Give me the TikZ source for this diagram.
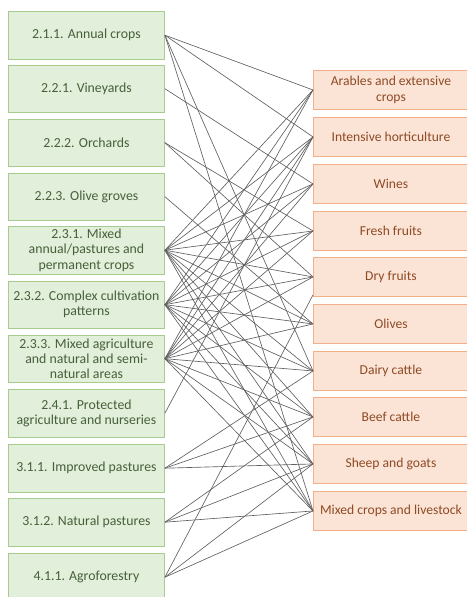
\documentclass[tikz,border=0pt]{standalone}
\usepackage{fontspec}
\setmainfont{Carlito}
\usetikzlibrary{calc}
\definecolor{landfill}{HTML}{E2EFDA}
\definecolor{landdraw}{HTML}{A8CB90}
\definecolor{landtext}{HTML}{46603A}
\definecolor{farmfill}{HTML}{FBE4D6}
\definecolor{farmdraw}{HTML}{F2B08A}
\definecolor{farmtext}{HTML}{8E4A24}
\definecolor{linkgray}{HTML}{606060}
\begin{document}
\begin{tikzpicture}[x=1pt,y=-1pt,
  landbox/.style={draw=landdraw, fill=landfill, text=landtext, line width=0.9pt,
    minimum width=156pt, minimum height=47.5pt, inner sep=0pt, align=center,
    anchor=north west, font=\fontsize{13.8}{15.2}\selectfont},
  farmbox/.style={draw=farmdraw, fill=farmfill, text=farmtext, line width=0.9pt,
    minimum width=155pt, minimum height=39pt, inner sep=0pt, align=center,
    anchor=north west, font=\fontsize{13.6}{16}\selectfont},
  link/.style={draw=linkgray, line width=0.65pt}]
\useasboundingbox (0,0) rectangle (466,597);

% land-cover classes
\node[landbox] (l1)  at (8,11)    {2.1.1. Annual crops};
\node[landbox] (l2)  at (8,64.5)  {2.2.1. Vineyards};
\node[landbox] (l3)  at (8,118.5) {2.2.2. Orchards};
\node[landbox] (l4)  at (8,172.5) {2.2.3. Olive groves};
\node[landbox] (l5)  at (8,226)   {2.3.1. Mixed\\annual/pastures and\\permanent crops};
\node[landbox] (l6)  at (8,280.5) {2.3.2. Complex cultivation\\patterns};
\node[landbox] (l7)  at (8,334.5) {2.3.3. Mixed agriculture\\and natural and semi-\\natural areas};
\node[landbox] (l8)  at (8,389)   {2.4.1. Protected\\agriculture and nurseries};
\node[landbox] (l9)  at (8,444)   {3.1.1. Improved pastures};
\node[landbox] (l10) at (8,498)   {3.1.2. Natural pastures};
\node[landbox] (l11) at (8,553)   {4.1.1. Agroforestry};

% farm types
\node[farmbox] (r1)  at (313,70)  {Arables and extensive\\crops};
\node[farmbox] (r2)  at (313,117) {Intensive horticulture};
\node[farmbox] (r3)  at (313,164) {Wines};
\node[farmbox] (r4)  at (313,211) {Fresh fruits};
\node[farmbox] (r5)  at (313,257) {Dry fruits};
\node[farmbox] (r6)  at (313,304) {Olives};
\node[farmbox] (r7)  at (313,351) {Dairy cattle};
\node[farmbox] (r8)  at (313,397) {Beef cattle};
\node[farmbox] (r9)  at (313,444) {Sheep and goats};
\node[farmbox] (r10) at (313,491) {Mixed crops and livestock};

\coordinate (r5low) at ($(r5.south west)+(0,-2)$);

% links between classes and farm types
\foreach \a/\b in {l1/r1, l1/r2, l1/r7, l1/r10,
                   l2/r3, l3/r4, l3/r5, l4/r6, l8/r2,
                   l9/r7, l9/r8, l9/r9,
                   l10/r8, l10/r9, l10/r10,
                   l11/r9, l11/r10}
  \draw[link] (\a.east) -- (\b.west);
\foreach \a in {l5, l6, l7}
  \foreach \b in {r1, r2, r3, r4, r5, r6, r7, r8, r9, r10}
    \draw[link] (\a.east) -- (\b.west);
\draw[link] (l11.east) -- (r5low);
\end{tikzpicture}
\end{document}
